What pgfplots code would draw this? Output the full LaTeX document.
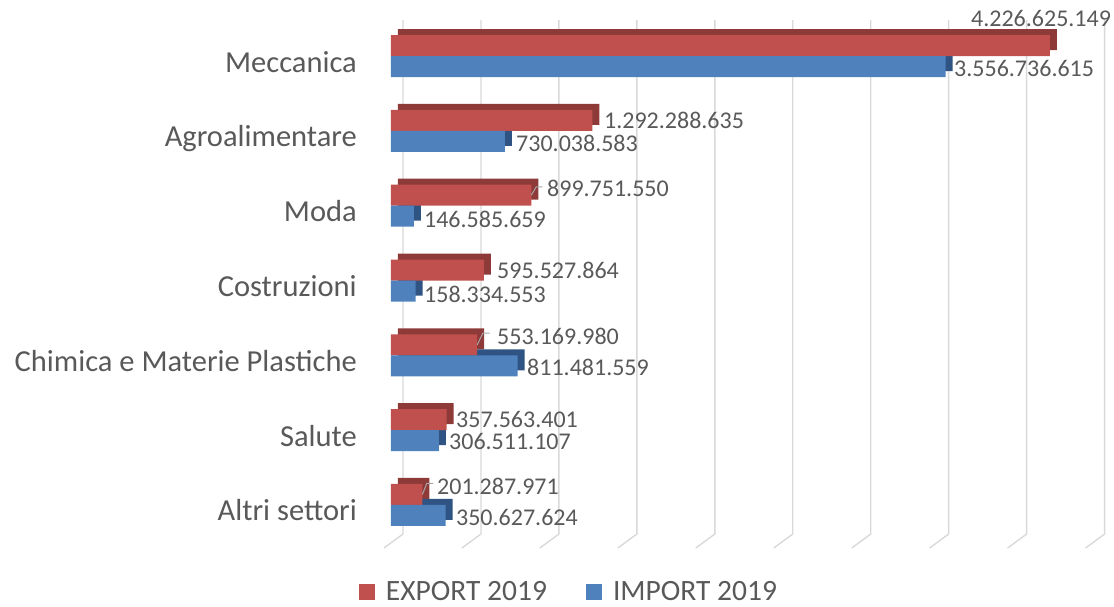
\documentclass[border=0pt]{standalone}
\usepackage{pgfplots}
\pgfplotsset{compat=1.18}
\usepackage{pgfplotstable}
\usepackage{fontspec}
\setmainfont{Carlito}
\definecolor{cRed}{HTML}{C0504D}
\definecolor{cRedD}{HTML}{8E3A38}
\definecolor{cBlue}{HTML}{4F81BD}
\definecolor{cBlueD}{HTML}{2F5383}
\definecolor{txt}{HTML}{595959}
\definecolor{gridc}{HTML}{D9D9D9}
\definecolor{lead}{HTML}{A6A6A6}

\pgfplotstableread{
y val label dx dy
6 4226.625149 4.226.625.149 -79 38
5 1292.288635 1.292.288.635 11.5 10.8
4 899.751550 899.751.550 15.7 17.5
3 595.527864 595.527.864 13.2 10.5
2 553.169980 553.169.980 19.8 18.5
1 357.563401 357.563.401 9.3 10.5
0 201.287971 201.287.971 14.6 19
}\exporttab

\pgfplotstableread{
y val label dx dy
6 3556.736615 3.556.736.615 8.5 -12
5 730.038583 730.038.583 11.2 -12.2
4 146.585659 146.585.659 10.1 -13.5
3 158.334553 158.334.553 8.3 -13.5
2 811.481559 811.481.559 9.5 -12.5
1 306.511107 306.511.107 10.2 -11.5
0 350.627624 350.627.624 10.3 -13
}\importtab

\pgfplotsset{
  lbl/.style={
    nodes near coords,
    point meta=explicit symbolic,
    visualization depends on={\thisrow{dx} \as \ldx},
    visualization depends on={\thisrow{dy} \as \ldy},
    every node near coord/.append style={font=\fontsize{24}{28}\selectfont, text=txt, anchor=west, inner sep=0pt, xshift=\ldx pt, yshift=\ldy pt},
  }
}

\begin{document}
\begin{tikzpicture}
\begin{axis}[
  at={(0,0)}, anchor=south west,
  scale only axis,
  width=701.6pt, height=523.8pt,
  xmin=0, xmax=4500,
  ymin=-0.5, ymax=6.5,
  clip=false,
  axis line style={draw=none},
  major tick length=0pt,
  xtick=\empty,
  ytick={0,1,2,3,4,5,6},
  yticklabels={Altri settori,Salute,Chimica e Materie Plastiche,Costruzioni,Moda,Agroalimentare,Meccanica},
  yticklabel style={font=\fontsize{30.5}{36}\selectfont, text=txt, anchor=base east, inner sep=0pt, xshift=-34pt, yshift=-16pt},
  legend style={at={(0.253,-0.0947)}, anchor=center, draw=none, fill=none,
    font=\fontsize{29.5}{34}\selectfont, text=txt, legend columns=2,
    /tikz/every odd column/.append style={column sep=10pt},
    /tikz/every even column/.append style={column sep=38pt},
    nodes={inner sep=1pt}, row sep=0pt},
  legend image code/.code={\fill[#1] (0pt,-8pt) rectangle (16pt,8pt);},
  legend cell align=left,
]
\pgfplotsinvokeforeach{0,1,2,3,4,5,6,7,8,9}{
  \draw[gridc, line width=1.4pt] (axis cs:{#1*500+77},6.481) -- (axis cs:{#1*500+77},-0.388) -- (axis cs:{#1*500-45},-0.575);
}
% 3D depth (shifted darker copies)
\addplot[xbar, bar width=21pt, bar shift=16.5pt, xshift=7pt, fill=cRedD, draw=none, forget plot] table[x=val, y=y] {\exporttab};
\addplot[xbar, bar width=21pt, bar shift=-4.5pt, xshift=7pt, fill=cBlueD, draw=none, forget plot] table[x=val, y=y] {\importtab};
% front faces
\addplot[xbar, bar width=21pt, bar shift=10.5pt, fill=cRed, draw=none, lbl] table[x=val, y=y, meta=label] {\exporttab};
\addplot[xbar, bar width=21pt, bar shift=-10.5pt, fill=cBlue, draw=none, lbl] table[x=val, y=y, meta=label] {\importtab};
% leader lines
\draw[lead, line width=1pt] ([yshift=10.5pt]axis cs:899.751550,4) -- ++(5pt,8.3pt) -- ++(6.3pt,0pt);
\draw[lead, line width=1pt] ([yshift=10.5pt]axis cs:553.169980,2) -- ++(5.6pt,11.7pt) -- ++(6.7pt,0pt);
\draw[lead, line width=1pt] ([yshift=10.5pt]axis cs:201.287971,0) -- ++(4.4pt,11pt) -- ++(6.6pt,0pt);
\legend{EXPORT 2019, IMPORT 2019}
\end{axis}
\pgfresetboundingbox
\useasboundingbox (-391pt,-63.6pt) rectangle (723pt,542.4pt);
\end{tikzpicture}
\end{document}
